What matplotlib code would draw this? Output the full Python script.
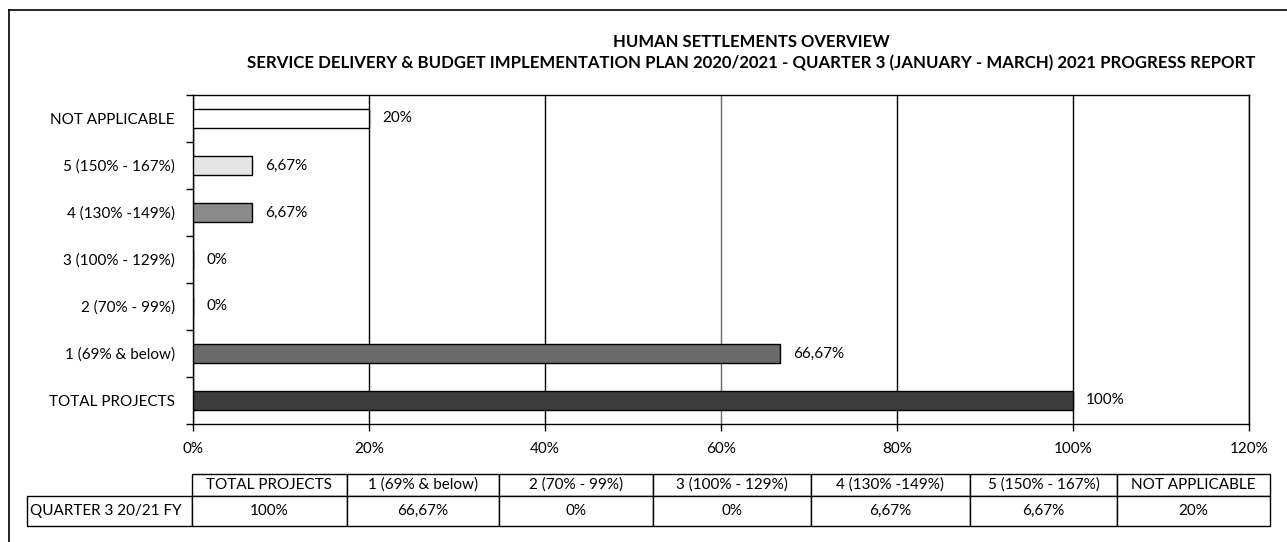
import matplotlib as mpl
mpl.use('Agg')
import matplotlib.pyplot as plt
from matplotlib.lines import Line2D
import numpy as np

plt.rcParams['font.family'] = ['Lato', 'DejaVu Sans']

# data (bottom to top as drawn)
categories = ["TOTAL PROJECTS", "1 (69% & below)", "2 (70% - 99%)", "3 (100% - 129%)",
              "4 (130% -149%)", "5 (150% - 167%)", "NOT APPLICABLE"]
values = [100, 66.67, 0, 0, 6.67, 6.67, 20]
value_labels = ["100%", "66,67%", "0%", "0%", "6,67%", "6,67%", "20%"]
bar_colors = ["#3c3c3c", "#6a6a6a", "#ffffff", "#ffffff", "#8a8a8a", "#e6e6e6", "#ffffff"]
row_label = "QUARTER 3 20/21 FY"
xticks = [0, 20, 40, 60, 80, 100, 120]

title1 = "HUMAN SETTLEMENTS OVERVIEW"
title2 = ("SERVICE DELIVERY & BUDGET IMPLEMENTATION PLAN 2020/2021 - "
          "QUARTER 3 (JANUARY - MARCH) 2021 PROGRESS REPORT")

W, H = 1287, 542
fig = plt.figure(figsize=(W / 100, H / 100), dpi=100)
ax_l, ax_r, ax_t, ax_b = 193, 1249, 95, 424
ax = fig.add_axes([ax_l / W, 1 - ax_b / H, (ax_r - ax_l) / W, (ax_b - ax_t) / H])

y = np.arange(len(categories))
ax.barh(y, values, height=0.42, color=bar_colors, edgecolor="black", linewidth=1.0, zorder=3)
for yi, v, lab in zip(y, values, value_labels):
    ax.text(v + 1.5, yi, lab, va="center", ha="left", fontsize=11, zorder=4)

ax.set_xlim(0, 120)
ax.set_ylim(-0.5, len(categories) - 0.5)
ax.set_xticks(xticks)
ax.set_xticklabels([f"{t}%" for t in xticks], fontsize=11)
ax.tick_params(axis="x", direction="out", length=5, pad=8, width=1)
ax.set_yticks(y)
ax.set_yticklabels(categories, fontsize=11)
ax.tick_params(axis="y", length=0, pad=13)
ax.set_yticks(np.arange(len(categories) + 1) - 0.5, minor=True)
ax.tick_params(axis="y", which="minor", direction="out", length=5, width=1)
ax.grid(axis="x", color="black", linewidth=1.0, zorder=0)
ax.get_xgridlines()[3].set_color("#6a6a6a")
for s in ax.spines.values():
    s.set_color("black")
    s.set_linewidth(1.0)

fig.text(751 / W, 1 - 42 / H, title1, ha="center", va="center", fontsize=12, fontweight="bold")
fig.text(751 / W, 1 - 63 / H, title2, ha="center", va="center", fontsize=12.1, fontweight="bold")

# data table underneath: header row + one data row, blank corner cell
cell_text = [[""] + categories, [row_label] + value_labels]
col_px = [165, 155, 152, 154, 158, 159, 147, 153]
tot = sum(col_px)
t_left, t_right, t_top, t_mid, t_bot = 27, 1270, 474, 496, 526
x0 = (t_left - ax_l) / (ax_r - ax_l)
x1 = (t_right - ax_l) / (ax_r - ax_l)
yb = (ax_b - t_bot) / (ax_b - ax_t)
yt = (ax_b - t_top) / (ax_b - ax_t)
tbl = ax.table(cellText=cell_text, cellLoc="center",
               colWidths=[c / tot for c in col_px],
               bbox=[x0, yb, x1 - x0, yt - yb])
tbl.auto_set_font_size(False)
for (r, c), cell in tbl.get_celld().items():
    cell.set_fontsize(11)
    cell.set_linewidth(1.0)
    cell.set_edgecolor("black")
    cell.set_height((t_mid - t_top) if r == 0 else (t_bot - t_mid))
    if r == 0 and c == 0:
        cell.visible_edges = ""
    if r == 1 and c == 0:
        cell.get_text().set_ha("left")
        cell.PAD = 0.02

# outer frame of the pasted chart
fig.add_artist(Line2D([9 / W, 9 / W], [1 - 10 / H, 0], transform=fig.transFigure, color="black", lw=1.2))
fig.add_artist(Line2D([9 / W, 1], [1 - 10 / H, 1 - 10 / H], transform=fig.transFigure, color="black", lw=1.2))

fig.savefig("out.png", dpi=100)
